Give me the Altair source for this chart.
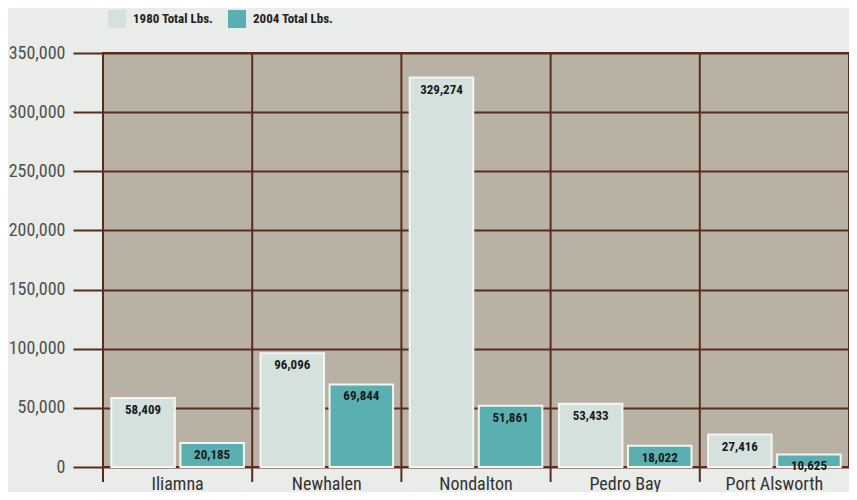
import altair as alt
import pandas as pd

communities = ["Iliamna", "Newhalen", "Nondalton", "Pedro Bay", "Port Alsworth"]
lbs_1980 = [58409, 96096, 329274, 53433, 27416]
lbs_2004 = [20185, 69844, 51861, 18022, 10625]
series = ["1980 Total Lbs.", "2004 Total Lbs."]
y_ticks = [0, 50000, 100000, 150000, 200000, 250000, 300000, 350000]

rows = []
for c, a, b in zip(communities, lbs_1980, lbs_2004):
    rows.append({"Community": c, "Series": series[0], "Lbs": a})
    rows.append({"Community": c, "Series": series[1], "Lbs": b})
df = pd.DataFrame(rows)
sep_df = pd.DataFrame({"Community": communities, "Lbs": [0] * len(communities)})

BROWN = "#5a2c20"
FONT = "Roboto Condensed, Roboto, sans-serif"

x_scale = alt.Scale(domain=communities, paddingInner=0, paddingOuter=0)
y_scale = alt.Scale(domain=[0, 350000], nice=False)

x_axis = alt.Axis(
    title=None, labelAngle=0, ticks=False, domain=False, grid=False,
    labelFontSize=18, labelFont=FONT, labelColor="#333333", labelPadding=8,
)
y_axis = alt.Axis(
    title=None, values=y_ticks, format=",d", tickSize=30, tickColor=BROWN,
    tickWidth=2, grid=True, gridColor=BROWN, gridWidth=2, gridOpacity=1,
    domain=False, labelFontSize=18, labelFont=FONT, labelPadding=8,
    labelColor="#505050",
)

sep = alt.Chart(sep_df).mark_rule(color=BROWN, strokeWidth=2).encode(
    x=alt.X("Community:N", scale=x_scale, sort=communities, bandPosition=0, axis=x_axis),
    y=alt.value(0),
    y2=alt.value(429),
)

xoff = alt.XOffset("Series:N", sort=series,
                   scale=alt.Scale(paddingInner=0.08, paddingOuter=0.12))

bars = alt.Chart(df).mark_bar(stroke="#f3f6f3", strokeWidth=2).encode(
    x=alt.X("Community:N", scale=x_scale, sort=communities, axis=x_axis),
    xOffset=xoff,
    y=alt.Y("Lbs:Q", scale=y_scale, axis=y_axis),
    color=alt.Color(
        "Series:N",
        scale=alt.Scale(domain=series, range=["#d4e1dd", "#5aafb0"]),
        legend=alt.Legend(
            title=None, orient="none", legendX=5, legendY=-43,
            direction="horizontal", symbolType="square", symbolSize=324,
            symbolStrokeWidth=0, labelFont=FONT, labelFontWeight="bold",
            labelFontSize=13, labelColor="#222222", columnPadding=14,
            labelOffset=7,
        ),
    ),
)

labels = alt.Chart(df).mark_text(
    dy=12, baseline="middle", font=FONT, fontWeight="bold", fontSize=13,
    color="#1a1a1a",
).encode(
    x=alt.X("Community:N", scale=x_scale, sort=communities, axis=x_axis),
    xOffset=xoff,
    y=alt.Y("Lbs:Q", scale=y_scale, axis=y_axis),
    text=alt.Text("Lbs:Q", format=","),
)

chart = (
    alt.layer(sep, bars, labels)
    .properties(
        width=746, height=414,
        autosize=alt.AutoSizeParams(type="none"),
        padding={"left": 95, "top": 45, "right": 0, "bottom": 25},
    )
    .configure(background="#e9ece8")
    .configure_view(fill="#b9b1a3", stroke=BROWN, strokeWidth=2)
)

chart.save("out.html", embed_options={"renderer": "svg", "actions": False})
